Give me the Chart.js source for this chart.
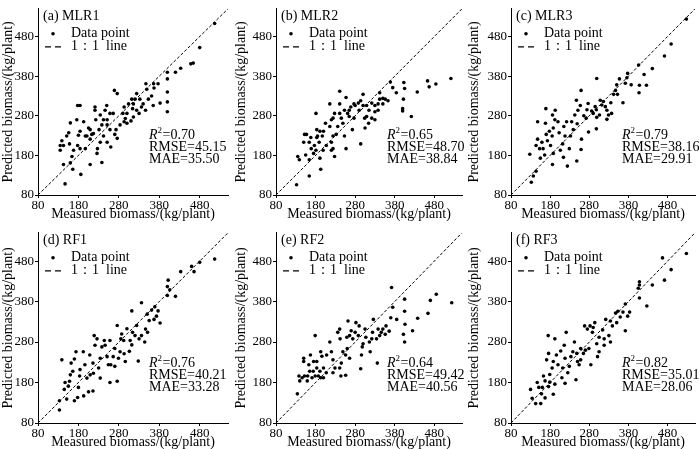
<!DOCTYPE html>
<html>
<head>
<meta charset="utf-8">
<script src="https://cdn.jsdelivr.net/npm/chart.js@4"></script>
<style>
  body { margin: 0; background: #fff; }
  #wrap { position: relative; width: 700px; height: 449px; }
  canvas { position: absolute; }
</style>
</head>
<body>
<div id="wrap"></div>
<script>
// tick labels and panel texts
const tickValues = [80, 180, 280, 380, 480]
const panelNames = ["(a) MLR1", "(b) MLR2", "(c) MLR3", "(d) RF1", "(e) RF2", "(f) RF3"]
const r2Values = ["0.70", "0.65", "0.79", "0.76", "0.64", "0.82"]
const rmseValues = ["45.15", "48.70", "38.16", "40.21", "49.42", "35.01"]
const maeValues = ["35.50", "38.84", "29.91", "33.28", "40.56", "28.06"]
const xTitle = "Measured biomass/(kg/plant)"
const yTitle = "Predicted biomass/(kg/plant)"

// measured / predicted pairs
const mlr1 = [[517,513],[480,452],[458,411],[464,413],[433,400],[420,390],[400,390],[400,373],[400,340],[400,315],[400,290],[382,312],[377,361],[366,361],[367,350],[347,361],[349,347],[353,322],[361,330],[365,306],[340,310],[332,322],[324,336],[320,322],[312,322],[316,310],[314,298],[304,310],[300,286],[296,273],[293,302],[290,286],[276,336],[269,344],[266,286],[258,286],[251,270],[246,294],[250,306],[258,245],[276,223],[260,201],[251,257],[242,270],[238,257],[234,282],[231,245],[221,302],[221,294],[223,270],[227,197],[226,185],[238,162],[213,233],[209,221],[205,249],[201,229],[197,197],[193,265],[184,241],[180,231],[178,306],[184,306],[176,270],[178,205],[184,197],[168,193],[164,177],[160,161],[166,145],[158,209],[160,262],[156,237],[151,229],[139,217],[135,205],[135,193],[143,205],[143,157],[147,108],[186,132],[209,157],[197,229],[209,245],[217,235],[234,213],[242,229],[251,213],[270,233],[273,245],[283,257],[293,265],[300,261],[310,267],[316,277],[324,294],[330,286],[336,302],[346,294]]
const mlr2 = [[522,374],[484,360],[467,353],[463,368],[437,340],[422,278],[403,364],[405,349],[402,322],[400,298],[400,292],[384,338],[375,351],[369,365],[363,318],[356,322],[350,324],[350,310],[342,338],[338,310],[338,294],[342,322],[330,306],[330,290],[322,312],[315,294],[309,306],[309,278],[304,274],[300,306],[300,334],[294,318],[290,294],[288,312],[280,306],[273,245],[277,274],[269,302],[265,294],[261,286],[257,326],[253,294],[249,261],[245,274],[241,310],[236,253],[241,342],[228,286],[224,274],[220,270],[216,310],[216,253],[220,213],[224,197],[228,177],[205,261],[200,241],[197,229],[191,241],[189,213],[191,173],[185,229],[183,225],[181,286],[181,193],[177,205],[175,185],[168,225],[164,213],[157,233],[152,233],[150,213],[139,169],[135,177],[155,181],[164,169],[169,197],[164,128],[193,145],[132,106],[294,209],[305,249],[322,274],[330,270],[314,261],[277,310],[265,278],[241,286],[257,197],[253,229],[232,233],[224,229],[207,205],[199,193],[220,193],[183,245]]
const mlr3 = [[528,524],[489,461],[472,431],[441,399],[420,384],[426,357],[406,408],[408,357],[407,338],[387,358],[378,387],[376,376],[372,362],[366,313],[357,373],[350,358],[347,344],[352,334],[342,334],[335,313],[337,286],[329,282],[325,271],[325,294],[321,303],[316,316],[312,307],[308,319],[306,282],[299,276],[298,295],[295,303],[299,374],[290,286],[286,292],[277,311],[274,295],[272,274],[266,280],[259,344],[257,306],[251,294],[247,319],[249,260],[243,282],[239,245],[235,265],[232,229],[229,197],[224,153],[222,265],[218,229],[215,253],[212,209],[206,193],[203,237],[200,265],[192,270],[188,249],[185,229],[181,205],[178,241],[173,217],[170,233],[169,298],[166,181],[162,197],[159,213],[155,173],[153,197],[148,265],[144,140],[137,128],[132,112],[128,183],[144,205],[148,221],[186,282],[193,294],[168,261],[188,185],[214,175],[186,157],[248,166],[259,195],[278,239],[298,247],[260,221]]
const rf1 = [[517,485],[480,477],[460,467],[466,454],[433,454],[420,393],[402,433],[400,417],[400,395],[406,409],[382,327],[377,357],[369,367],[373,344],[367,336],[361,359],[355,333],[351,304],[346,312],[344,280],[336,296],[330,288],[328,233],[324,321],[320,296],[314,304],[312,273],[308,284],[306,257],[300,313],[293,251],[292,284],[287,300],[285,288],[276,321],[270,264],[266,244],[260,224],[258,284],[251,244],[246,272],[244,284],[238,268],[234,240],[230,216],[226,288],[221,272],[219,296],[216,228],[209,199],[208,248],[201,191],[196,224],[192,256],[184,212],[183,196],[180,168],[178,143],[174,256],[170,238],[166,208],[162,228],[160,199],[158,183],[155,171],[147,180],[145,163],[151,139],[170,135],[133,135],[133,112],[139,236],[193,147],[205,157],[216,159],[217,203],[234,191],[254,224],[258,180],[276,183],[270,220],[279,240],[296,232],[283,256],[312,357],[336,377],[350,349]]
const rf2 = [[524,377],[485,398],[470,383],[464,351],[438,339],[425,308],[405,386],[405,356],[406,324],[405,280],[402,299],[385,336],[375,366],[372,415],[370,340],[366,307],[358,320],[356,299],[350,312],[346,304],[342,296],[338,312],[334,288],[326,336],[324,304],[322,288],[316,280],[318,256],[336,228],[307,292],[305,312],[300,276],[298,268],[296,248],[294,214],[290,320],[288,296],[280,304],[274,288],[270,308],[262,332],[266,296],[260,264],[256,248],[259,292],[241,312],[242,288],[249,256],[245,228],[241,216],[244,196],[256,198],[229,216],[224,236],[220,256],[216,280],[208,248],[207,204],[200,216],[196,245],[191,208],[187,196],[183,216],[179,196],[179,296],[175,232],[174,208],[167,248],[163,224],[160,196],[159,184],[152,196],[150,240],[150,232],[146,192],[138,196],[140,184],[134,152],[171,192],[193,256],[183,232],[165,208],[200,192],[224,204],[236,304],[193,192],[266,240],[282,328]]
const rf3 = [[528,499],[489,459],[467,488],[472,433],[441,421],[427,369],[408,429],[408,421],[405,413],[408,389],[383,354],[378,344],[372,374],[372,308],[366,354],[359,342],[353,356],[350,328],[347,352],[339,320],[334,332],[334,280],[330,296],[322,336],[318,288],[318,272],[314,310],[305,292],[305,256],[301,244],[299,276],[294,328],[290,316],[288,304],[282,320],[279,264],[275,312],[270,260],[268,320],[265,252],[258,264],[254,224],[250,232],[246,187],[248,252],[242,280],[238,256],[233,244],[229,220],[225,204],[221,304],[218,240],[216,272],[212,216],[210,192],[207,258],[200,224],[196,248],[192,288],[188,232],[185,216],[179,200],[176,252],[175,296],[171,236],[167,184],[163,196],[160,168],[158,152],[156,128],[151,168],[147,180],[143,128],[134,141],[130,163],[188,151],[176,170],[167,142],[179,181],[192,176],[218,178],[258,236],[284,224]]

const panelData = [mlr1, mlr2, mlr3, rf1, rf2, rf3]
const FONT = "'Liberation Serif', 'DejaVu Serif', serif"

// texts inside each panel, plus the x axis title
const panelText = {
  id: "panelText",
  afterDraw(chart, args, opts) {
    const ctx = chart.ctx
    const a = chart.chartArea
    ctx.save()
    ctx.fillStyle = "#000"
    ctx.strokeStyle = "#000"
    ctx.textBaseline = "middle"
    ctx.font = "14px " + FONT
    ctx.fillText(opts.name, a.left + 5, a.top + 8)
    // legend
    ctx.beginPath()
    ctx.arc(a.left + 15, a.top + 25, 1.8, 0, Math.PI * 2)
    ctx.fill()
    ctx.fillText("Data point", a.left + 33, a.top + 25)
    ctx.lineWidth = 1.2
    ctx.setLineDash([6, 4])
    ctx.beginPath()
    ctx.moveTo(a.left + 7, a.top + 38)
    ctx.lineTo(a.left + 26, a.top + 38)
    ctx.stroke()
    ctx.setLineDash([])
    ctx.fillText("1：1  line", a.left + 33, a.top + 38)
    // stats
    const sx = a.left + 111
    const sy = a.bottom - 60
    ctx.font = "italic 14px " + FONT
    ctx.fillText("R", sx, sy)
    const rw = ctx.measureText("R").width
    ctx.font = "9px " + FONT
    ctx.fillText("2", sx + rw, sy - 4)
    ctx.font = "14px " + FONT
    ctx.fillText("=" + opts.r2, sx + rw + 5, sy)
    ctx.fillText("RMSE=" + opts.rmse, sx, sy + 12)
    ctx.fillText("MAE=" + opts.mae, sx, sy + 24)
    // x title
    ctx.textAlign = "center"
    ctx.font = "14px " + FONT
    ctx.fillText(xTitle, (a.left + a.right) / 2, a.bottom + 19)
    ctx.restore()
  }
}

const wrap = document.querySelector("#wrap")
const yWidths = [38, 43, 45]
const rightPads = [5, 1, 1]

for (let i = 0; i < 6; i++) {
  const col = i % 3
  const row = Math.floor(i / 3)
  const canvas = document.createElement("canvas")
  canvas.width = 233
  canvas.height = 225
  canvas.style.left = (col * 233) + "px"
  canvas.style.top = (row * 224) + "px"
  wrap.appendChild(canvas)

  const axisLine = { display: true, color: "#000", width: 1 }
  const gridOpts = { display: true, drawOnChartArea: false, drawTicks: true, tickLength: 3, color: "#000" }
  const fixTicks = (s) => { s.ticks = tickValues.map((v) => ({ value: v })) }

  new Chart(canvas, {
    data: {
      datasets: [
        {
          type: "scatter",
          data: panelData[i].map((p) => ({ x: p[0], y: p[1] })),
          backgroundColor: "#000",
          borderColor: "#000",
          pointRadius: 1.8,
          pointBorderWidth: 0,
        },
        {
          type: "line",
          data: [{ x: 80, y: 80 }, { x: 550, y: 550 }],
          borderColor: "#000",
          borderWidth: 1,
          borderDash: [3, 2],
          pointRadius: 0,
        },
      ],
    },
    options: {
      responsive: false,
      animation: false,
      layout: { padding: { top: row === 0 ? 1 : 4, right: rightPads[col], left: 0, bottom: 0 } },
      plugins: {
        legend: { display: false },
        tooltip: { enabled: false },
        panelText: { name: panelNames[i], r2: r2Values[i], rmse: rmseValues[i], mae: maeValues[i] },
      },
      scales: {
        x: {
          type: "linear",
          min: 80,
          max: 550,
          afterBuildTicks: fixTicks,
          afterFit: (s) => { s.height = row === 0 ? 30 : 26 },
          border: axisLine,
          grid: gridOpts,
          ticks: { color: "#000", font: { family: FONT, size: 13 }, padding: 0, maxRotation: 0 },
          title: { display: false },
        },
        y: {
          type: "linear",
          min: 80,
          max: 550,
          afterBuildTicks: fixTicks,
          afterFit: (s) => { s.width = yWidths[col] },
          border: axisLine,
          grid: gridOpts,
          ticks: { color: "#000", font: { family: FONT, size: 13 }, padding: 1 },
          title: { display: true, text: yTitle, color: "#000", font: { family: FONT, size: 14 }, padding: 0 },
        },
      },
    },
    plugins: [panelText],
  })
}
</script>
</body>
</html>
